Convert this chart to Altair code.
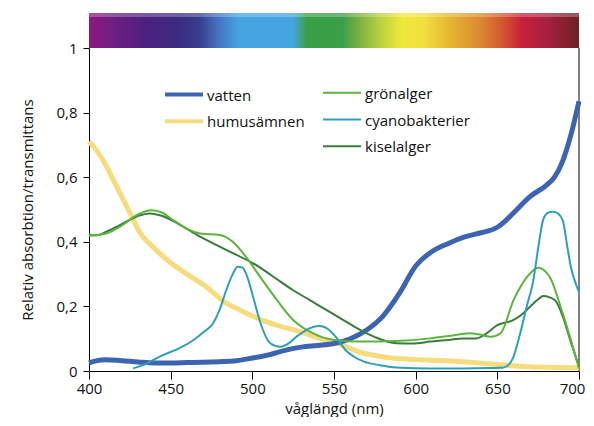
import altair as alt
import pandas as pd

# ---------------- data ----------------
vatten_wl = [400,405,410,420,430,440,450,460,470,480,490,500,510,520,530,540,550,560,570,580,590,600,610,620,630,640,650,655,660,670,680,685,690,695,700]
vatten_val = [0.025,0.032,0.035,0.032,0.028,0.025,0.025,0.026,0.027,0.029,0.032,0.04,0.05,0.064,0.074,0.079,0.085,0.1,0.127,0.17,0.24,0.325,0.37,0.395,0.415,0.428,0.445,0.465,0.49,0.54,0.575,0.6,0.65,0.73,0.835]

humus_wl = [400,405,410,415,420,425,431,440,450,460,472,484,490,500,507,515,522,529,537,545,555,566,575,585,598,610,629,650,670,685,700]
humus_val = [0.71,0.68,0.64,0.59,0.54,0.49,0.43,0.38,0.335,0.30,0.26,0.21,0.195,0.17,0.155,0.142,0.132,0.122,0.108,0.096,0.08,0.058,0.048,0.04,0.036,0.033,0.029,0.02,0.013,0.011,0.01]

gron_wl = [400,410,420,430,438,445,450,460,468,480,488,496,505,515,525,537,550,566,588,609,620,633,640,646,652,660,670,675,682,690,700]
gron_val = [0.419,0.425,0.45,0.485,0.498,0.49,0.473,0.44,0.426,0.421,0.40,0.354,0.29,0.22,0.158,0.117,0.096,0.091,0.093,0.101,0.108,0.117,0.112,0.106,0.117,0.22,0.302,0.32,0.292,0.179,0.008]

cyano_wl = [427,435,443,455,464,470,476,480,484,488,491,494,497,501,505,511,517,522,527,535,541,547,552,557,562,568,578,588,610,629,645,654,659,664,668,672,675,678,681,684,687,690,693,695,698,700]
cyano_val = [0.008,0.022,0.044,0.07,0.096,0.12,0.148,0.19,0.25,0.30,0.323,0.32,0.29,0.22,0.148,0.086,0.075,0.085,0.106,0.132,0.139,0.127,0.1,0.065,0.045,0.03,0.018,0.011,0.008,0.008,0.009,0.011,0.034,0.117,0.2,0.28,0.38,0.467,0.49,0.493,0.488,0.467,0.38,0.323,0.27,0.245]

kisel_wl = [400,405,410,420,430,437,445,455,468,480,490,500,512,525,535,545,555,566,575,588,598,609,620,629,637,643,650,660,665,670,675,678,682,686,690,695,700]
kisel_val = [0.42,0.42,0.43,0.455,0.48,0.488,0.48,0.455,0.416,0.385,0.36,0.335,0.295,0.25,0.22,0.19,0.16,0.127,0.105,0.086,0.085,0.091,0.096,0.101,0.101,0.115,0.142,0.158,0.175,0.199,0.222,0.232,0.228,0.215,0.17,0.09,0.013]

series_names = ["humusämnen", "vatten", "kiselalger", "grönalger", "cyanobakterier"]
series_data = {
    "vatten": (vatten_wl, vatten_val),
    "humusämnen": (humus_wl, humus_val),
    "grönalger": (gron_wl, gron_val),
    "cyanobakterier": (cyano_wl, cyano_val),
    "kiselalger": (kisel_wl, kisel_val),
}

x_ticks = [400, 450, 500, 550, 600, 650, 700]
y_ticks = [0, 0.2, 0.4, 0.6, 0.8, 1]

# spectrum gradient stops (wavelength, colour)
spec_wl = [400,415,435,455,468,480,492,525,533,555,565,578,592,605,620,640,655,665,680,700]
spec_col = ["#8C1A80","#6E1E82","#4C2080","#3C2C80","#3A3E90","#4478C4","#45A5E0","#45A5E0",
            "#3AA048","#3A9F48","#78B040","#B8D040","#F0E83A","#F0E040","#E6B830","#DA8830",
            "#D05030","#C8203A","#A82040","#6A2222"]

# ---------------- styles ----------------
colors = {"vatten": "#3D64B0", "humusämnen": "#F6DC7C", "grönalger": "#5AB43E",
          "cyanobakterier": "#2E9FB8", "kiselalger": "#3B7B3B"}
widths = {"vatten": 5, "humusämnen": 5, "grönalger": 2, "cyanobakterier": 2, "kiselalger": 2}
FONT = "Open Sans"
FS = 15

W, H = 490, 323

xscale = alt.Scale(domain=[400, 700], nice=False, zero=False, padding=0)
yscale = alt.Scale(domain=[0, 1], nice=False, padding=0)

x_axis = alt.Axis(values=x_ticks, title="våglängd (nm)", grid=False, tickSize=8,
                  labelFontSize=FS, titleFontSize=FS, titleFontWeight="normal",
                  labelFlush=False, labelPadding=2, titlePadding=5,
                  labelOffset=alt.condition("datum.value == 700", alt.value(-7), alt.value(0)),
                  domainColor="black", tickColor="black",
                  labelColor="#111", titleColor="#111", labelFont=FONT, titleFont=FONT)
y_axis = alt.Axis(values=y_ticks, title="Relativ absorbtion/transmittans", grid=False, tickSize=6,
                  labelFontSize=FS, titleFontSize=FS, titleFontWeight="normal",
                  labelExpr="replace(format(datum.value, '~g'), '.', ',')",
                  labelFlush=False, labelPadding=6, titlePadding=20,
                  domainColor="black", tickColor="black",
                  labelColor="#111", titleColor="#111", labelFont=FONT, titleFont=FONT)

layers = []

# spectrum bar
span_df = pd.DataFrame({"a": [spec_wl[0]], "b": [spec_wl[-1]]})
stops = [alt.GradientStop(color=c, offset=(w - spec_wl[0]) / (spec_wl[-1] - spec_wl[0]))
         for w, c in zip(spec_wl, spec_col)]
spectrum = alt.Chart(span_df).mark_rect(
    fill=alt.LinearGradient(gradient="linear", stops=stops, x1=0, x2=1, y1=0, y2=0)
).encode(x=alt.X("a:Q", scale=xscale, axis=x_axis), x2="b:Q",
         y=alt.value(-35), y2=alt.value(0))
sheen = alt.Chart(span_df).mark_rect(fill="white", opacity=0.25).encode(
    x=alt.X("a:Q", scale=xscale), x2="b:Q", y=alt.value(-35), y2=alt.value(-31))
layers += [spectrum, sheen]

# right border
border = alt.Chart(span_df).mark_rule(color="black", strokeWidth=1).encode(
    x=alt.X("b:Q", scale=xscale), y=alt.datum(0, scale=yscale), y2=alt.datum(1))
layers.append(border)

for name in series_names:
    wl, val = series_data[name]
    df = pd.DataFrame({"wl": wl, "val": val})
    layers.append(
        alt.Chart(df).mark_line(color=colors[name], strokeWidth=widths[name],
                                interpolate="monotone", strokeCap="butt").encode(
            x=alt.X("wl:Q", scale=xscale, axis=x_axis),
            y=alt.Y("val:Q", scale=yscale, axis=y_axis),
        )
    )

# manual two-column legend
legend_order = ["vatten", "humusämnen", "grönalger", "cyanobakterier", "kiselalger"]
rows = []
for i, name in enumerate(legend_order):
    col = 0 if i < 2 else 1
    r = i if i < 2 else i - 2
    x0 = 76 if col == 0 else 234
    y0 = (46.5 if col == 0 else 44.7) + r * 26.8
    rows.append({"name": name, "x0": x0, "x1": x0 + 38, "tx": x0 + 42, "y": y0,
                 "c": colors[name], "w": widths[name] - (1 if widths[name] > 3 else 0)})
leg = pd.DataFrame(rows)
leg_lines = alt.Chart(leg).mark_rule(strokeCap="butt").encode(
    x=alt.X("x0:Q", scale=None), x2="x1:Q", y=alt.Y("y:Q", scale=None),
    color=alt.Color("c:N", scale=None), strokeWidth=alt.StrokeWidth("w:Q", scale=None))
leg_text = alt.Chart(leg).mark_text(align="left", baseline="middle", fontSize=FS,
                                    font=FONT, color="#111", dy=1).encode(
    x=alt.X("tx:Q", scale=None), y=alt.Y("y:Q", scale=None), text="name:N")
layers += [leg_lines, leg_text]

chart = alt.layer(*layers).properties(
    width=W, height=H,
    autosize=alt.AutoSizeParams(type="none"),
    padding={"left": 81, "top": 40, "right": 7, "bottom": 46},
).configure_view(stroke=None)

chart.save("out.html", embed_options={"renderer": "svg", "actions": False})
